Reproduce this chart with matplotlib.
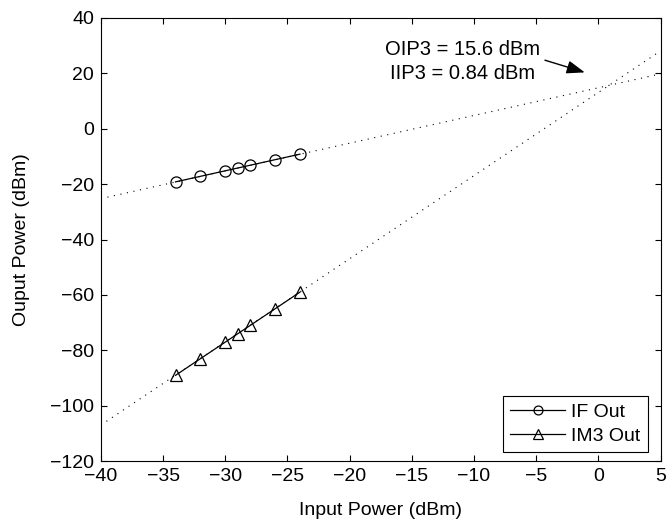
import numpy as np
import matplotlib
matplotlib.use("Agg")
import matplotlib.pyplot as plt

plt.rcParams['font.family'] = ['Liberation Sans', 'DejaVu Sans']

# measured points
input_power = [-34, -32, -30, -29, -28, -26, -24]
if_out = [-19.2, -17.2, -15.2, -14.2, -13.2, -11.2, -9.2]
im3_out = [-89.0, -83.0, -77.0, -74.0, -71.0, -65.0, -59.0]

# extrapolation (fits through the measured data)
oip3 = 15.6
iip3 = 0.84
x_range = [-40, 5]

fig = plt.figure(figsize=(6.68, 5.23), dpi=100)
ax = fig.add_axes([0.151, 0.118, 0.838, 0.848])

xs = np.array(x_range, dtype=float)
ax.plot(xs, oip3 + (xs - iip3), color='black', lw=0.8, linestyle=(0, (1, 5)))
ax.plot(xs, oip3 + 3 * (xs - iip3), color='black', lw=0.8, linestyle=(0, (1, 5)))

ax.plot(input_power, if_out, color='black', lw=0.9, marker='o', markersize=8,
        markerfacecolor='none', markeredgewidth=0.9, label='IF Out')
ax.plot(input_power, im3_out, color='black', lw=0.9, marker='^', markersize=9,
        markerfacecolor='none', markeredgewidth=0.9, label='IM3 Out')

ax.set_xlim(-40, 5)
ax.set_ylim(-120, 40)
ax.set_xticks(np.arange(-40, 6, 5))
ax.set_yticks(np.arange(-120, 41, 20))
ax.tick_params(direction='in', top=True, right=True, length=4.5, width=0.8,
               labelsize=14, pad=5)
for s in ax.spines.values():
    s.set_linewidth(0.8)

ax.set_xlabel('Input Power (dBm)', fontsize=14, labelpad=12)
ax.set_ylabel('Ouput Power (dBm)', fontsize=14, labelpad=14)

ax.text(-10.9, 24.2, 'OIP3 = 15.6 dBm\nIIP3 = 0.84 dBm', fontsize=14.5,
        ha='center', va='center', multialignment='center', linespacing=1.35)
ax.annotate('', xy=(-1.1, 20.3), xytext=(-4.3, 24.7),
            arrowprops=dict(arrowstyle='-|>,head_length=1.1,head_width=0.4',
                            color='black', lw=1.0, shrinkA=0, shrinkB=0))

leg = ax.legend(loc='lower right', bbox_to_anchor=(0.977, 0.02), fontsize=14,
                handlelength=2.8, markerscale=0.8, fancybox=False,
                framealpha=1, edgecolor='black', borderpad=0.4,
                labelspacing=0.3, handletextpad=0.3, borderaxespad=0)
leg.get_frame().set_linewidth(0.8)

fig.savefig('out.png', dpi=100)
